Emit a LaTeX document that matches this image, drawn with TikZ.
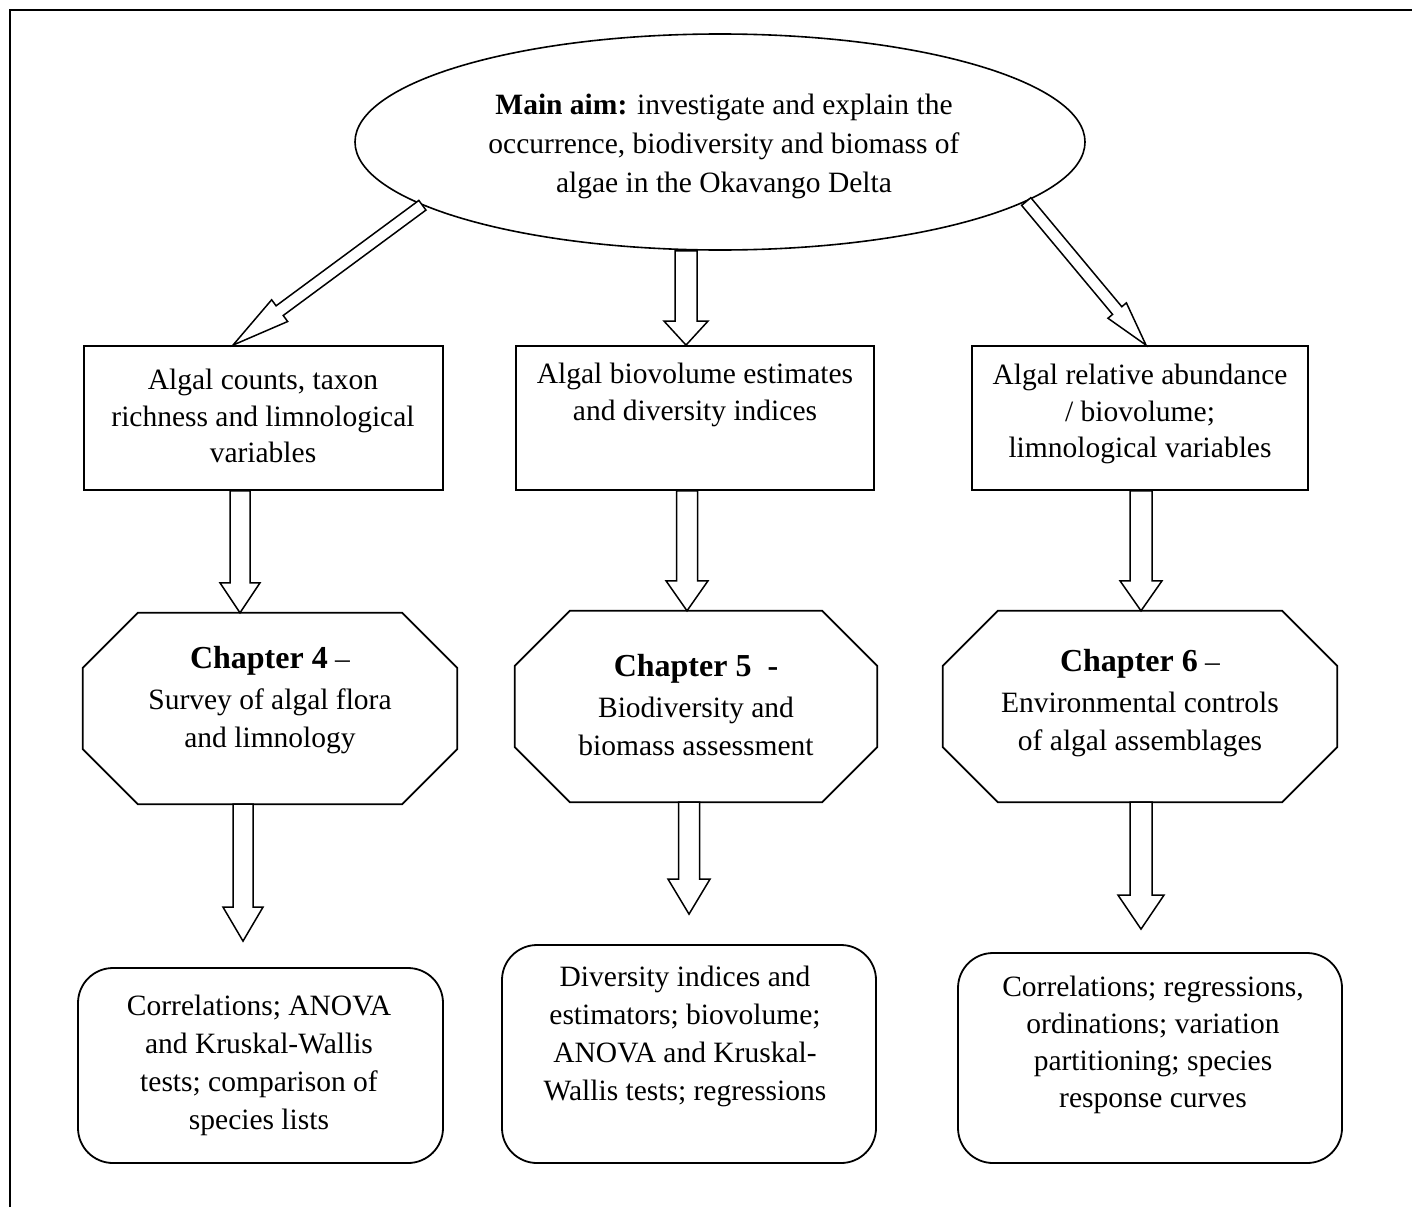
\documentclass[tikz,border=0pt]{standalone}
\usepackage{fontspec}
\setmainfont{Liberation Serif}
\usetikzlibrary{shapes.geometric,calc}

% hollow block arrow: #1 tail, #2 tip, #3 shaft half-width, #4 head half-width, #5 head length (pt)
\newcommand{\hollowarrow}[5]{%
  \coordinate (hs) at #1;
  \coordinate (ht) at #2;
  \coordinate (hb) at ($(ht)!#5pt!(hs)$);
  \draw[blockarrow]
    ($(hs)!#3pt!90:(ht)$) -- ($(hb)!#3pt!90:(ht)$) -- ($(hb)!#4pt!90:(ht)$)
    -- (ht) -- ($(hb)!#4pt!-90:(ht)$) -- ($(hb)!#3pt!-90:(ht)$)
    -- ($(hs)!#3pt!-90:(ht)$) -- cycle;
}
% octagon drawn around a rectangular node: #1 node name, #2 chamfer (pt)
\newcommand{\octagonframe}[2]{%
  \draw[shapeline]
    ($(#1.north west)+(#2,0)$) -- ($(#1.north east)+(-#2,0)$)
    -- ($(#1.north east)+(0,#2)$) -- ($(#1.south east)+(0,-#2)$)
    -- ($(#1.south east)+(-#2,0)$) -- ($(#1.south west)+(#2,0)$)
    -- ($(#1.south west)+(0,-#2)$) -- ($(#1.north west)+(0,#2)$) -- cycle;
}

\begin{document}
\begin{tikzpicture}[x=1pt,y=-1pt,
  txt/.style={align=center, inner sep=0pt, font=\fontsize{29.5}{37.5}\selectfont},
  shapeline/.style={draw=black, line width=1.8pt},
  rectbox/.style={shapeline, rectangle, inner sep=0pt},
  roundbox/.style={shapeline, rectangle, rounded corners=35pt, inner sep=0pt},
  octbox/.style={rectangle, inner sep=0pt},
  blockarrow/.style={draw=black, fill=white, line width=1.5pt, line join=miter},
]
\useasboundingbox (0,0) rectangle (1412,1207);

% page frame (top and left rules)
\draw[line width=2.2pt] (10,1207) -- (10,10) -- (1412,10);

% main aim
\node[ellipse, draw=black, line width=1.6pt, minimum width=730pt, minimum height=216pt, inner sep=0pt] (aim) at (720,142) {};
\node[txt, font=\fontsize{29.5}{39}\selectfont] (aimtext) at (724,146)
  {\textbf{Main aim:} investigate and explain the\\occurrence, biodiversity and biomass of\\algae in the Okavango Delta};

% data boxes
\node[rectbox, minimum width=359pt, minimum height=144pt] (b1) at (263.5,418) {};
\node[rectbox, minimum width=358pt, minimum height=144pt] (b2) at (695,418) {};
\node[rectbox, minimum width=336pt, minimum height=144pt] (b3) at (1140,418) {};
\node[txt, font=\fontsize{29.5}{36.5}\selectfont] (b1text) at (263,416) {Algal counts, taxon\\richness and limnological\\variables};
\node[txt, font=\fontsize{29.5}{36.5}\selectfont] (b2text) at (695,395) {Algal biovolume estimates\\and diversity indices};
\node[txt, font=\fontsize{29.5}{36.5}\selectfont] (b3text) at (1140,414) {Algal relative abundance\\/ biovolume;\\limnological variables};

% chapter octagons
\node[octbox, minimum width=374pt, minimum height=191pt] (o1) at (270,708.5) {};
\node[octbox, minimum width=362pt, minimum height=191pt] (o2) at (696,706.5) {};
\node[octbox, minimum width=394pt, minimum height=191pt] (o3) at (1140,706.5) {};
\octagonframe{o1}{55}
\octagonframe{o2}{55}
\octagonframe{o3}{55}
\node[txt] (o1text) at (270,700)
  {{\fontsize{32}{37.5}\selectfont\bfseries Chapter 4} --\\[4pt]Survey of algal flora\\and limnology};
\node[txt] (o2text) at (696,705)
  {{\fontsize{32}{37.5}\selectfont\bfseries Chapter 5\ \ -}\\[4pt]Biodiversity and\\biomass assessment};
\node[txt] (o3text) at (1140,703)
  {{\fontsize{32}{37.5}\selectfont\bfseries Chapter 6} --\\[4pt]Environmental controls\\of algal assemblages};

% analysis boxes
\node[roundbox, minimum width=365pt, minimum height=195pt] (r1) at (260.5,1065.5) {};
\node[roundbox, minimum width=374pt, minimum height=218pt] (r2) at (689,1054) {};
\node[roundbox, minimum width=384pt, minimum height=210pt] (r3) at (1150,1058) {};
\node[txt, font=\fontsize{29.5}{38}\selectfont] (r1text) at (259,1065)
  {Correlations; ANOVA\\and Kruskal-Wallis\\tests; comparison of\\species lists};
\node[txt, font=\fontsize{29.5}{38}\selectfont] (r2text) at (685,1036)
  {Diversity indices and\\estimators; biovolume;\\ANOVA and Kruskal-\\Wallis tests; regressions};
\node[txt, font=\fontsize{29.5}{37}\selectfont] (r3text) at (1153,1045)
  {Correlations; regressions,\\ordinations; variation\\partitioning; species\\response curves};

% free ends of the lower arrows
\coordinate (e1) at ($(243,0 |- r1.north)+(0,-26)$);
\coordinate (e2) at ($(689,0 |- r2.north)+(0,-30)$);
\coordinate (e3) at ($(1141,0 |- r3.north)+(0,-23)$);

% arrows from the main aim
\hollowarrow{(aim.192.8)}{(233,0 |- b1.north)}{6}{13.5}{58}
\hollowarrow{(686,0 |- aim.south)}{(686,0 |- b2.north)}{11}{22}{24}
\hollowarrow{(aim.349.8)}{(1146,0 |- b3.north)}{6}{12}{45}

% arrows from data boxes to chapters
\hollowarrow{(240,0 |- b1.south)}{(240,0 |- o1.north)}{10}{20}{30}
\hollowarrow{(687,0 |- b2.south)}{(687,0 |- o2.north)}{10.5}{21}{30}
\hollowarrow{(1141,0 |- b3.south)}{(1141,0 |- o3.north)}{11}{21}{30}

% arrows from chapters to analyses
\hollowarrow{(243,0 |- o1.south)}{(e1)}{10}{20}{34}
\hollowarrow{(689,0 |- o2.south)}{(e2)}{10.5}{21}{35}
\hollowarrow{(1141,0 |- o3.south)}{(e3)}{11}{23}{34}
\end{tikzpicture}
\end{document}
